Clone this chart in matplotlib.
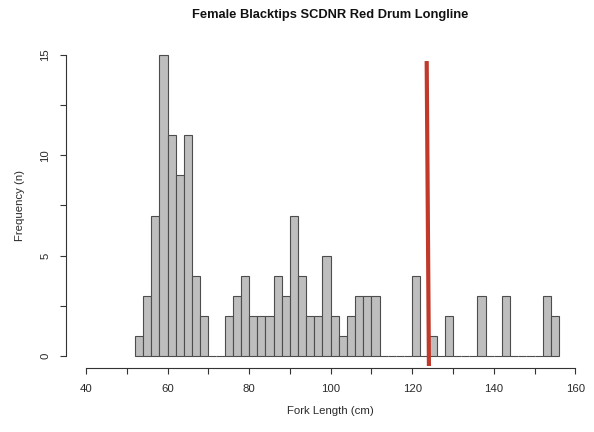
import numpy as np
import matplotlib
matplotlib.use("Agg")
import matplotlib.pyplot as plt

plt.rcParams['font.family'] = ['Liberation Sans', 'DejaVu Sans']

# Histogram of fork lengths (2 cm bins)
bin_start = 52
bin_width = 2
counts = [1, 3, 7, 15, 11, 9, 11, 4, 2, 0, 0,
          2, 3, 4, 2, 2, 2, 4, 3, 7, 4, 2, 2, 5, 2, 1, 2, 3, 3, 3,
          0, 0, 0, 0, 4, 0, 1, 0, 2, 0, 0, 0, 3, 0, 0, 3,
          0, 0, 0, 0, 3, 2]
bin_edges = bin_start + bin_width * np.arange(len(counts) + 1)

# Reference length marker
marker_x = [123.55, 124.1]
marker_y = [14.7, -0.5]

x_ticks = list(range(40, 161, 10))
x_labels = [str(t) if t % 20 == 0 else "" for t in x_ticks]
y_ticks = [0, 2.5, 5, 7.5, 10, 12.5, 15]
y_labels = ["0", "", "5", "", "10", "", "15"]

fig = plt.figure(figsize=(5.94, 4.32), dpi=100)
ax = fig.add_axes([66.4 / 594, 64 / 432, (594.9 - 66.4) / 594, (389 - 64) / 432])

ax.bar(bin_edges[:-1], counts, width=bin_width, align='edge',
       color='#bebebe', edgecolor='#4d4d4d', linewidth=0.8)

ax.plot(marker_x, marker_y, color='#c0392b', linewidth=3.0, solid_capstyle='butt')

ax.set_xlim(35.2, 164.8)
ax.set_ylim(-0.6, 15.6)

for side in ('top', 'right'):
    ax.spines[side].set_visible(False)
ax.spines['bottom'].set_bounds(40, 160)
ax.spines['left'].set_bounds(0, 15)
for side in ('bottom', 'left'):
    ax.spines[side].set_color('#333333')
    ax.spines[side].set_linewidth(0.8)

ax.set_xticks(x_ticks)
ax.set_xticklabels(x_labels)
ax.set_yticks(y_ticks)
ax.set_yticklabels(y_labels, rotation=90, va='center')
ax.tick_params(axis='both', length=4, width=0.8, color='#333333',
               labelsize=8.2, labelcolor='#2a2a2a')
ax.tick_params(axis='x', pad=7.5)
ax.tick_params(axis='y', pad=7.5)

ax.set_xlabel("Fork Length (cm)", fontsize=8.2, color='#2a2a2a', labelpad=9)
ax.set_ylabel("Frequency (n)", fontsize=8.2, color='#2a2a2a', labelpad=11)
fig.text(0.5565, 1 - 15 / 432, "Female Blacktips SCDNR Red Drum Longline",
         ha='center', va='center', fontsize=9.3, fontweight='bold', color='#111111')

fig.savefig("out.png", dpi=100, facecolor='white')
